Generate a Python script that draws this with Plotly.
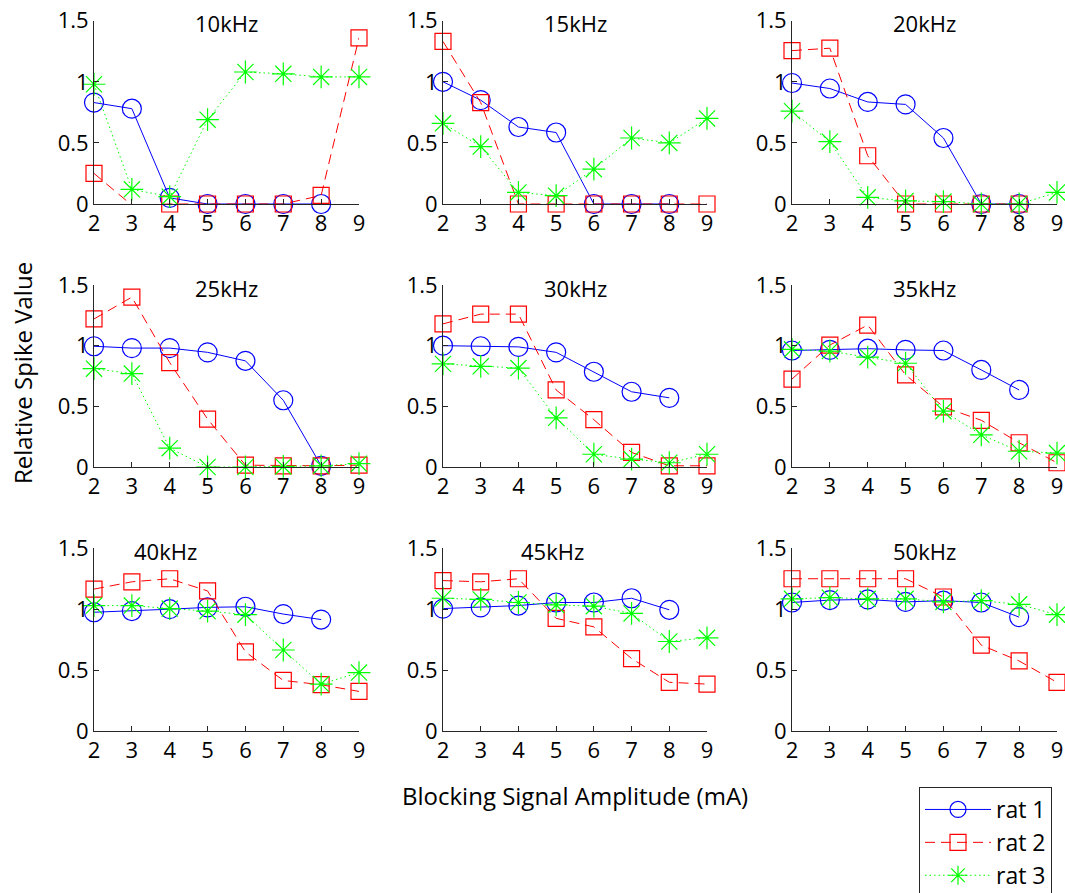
import plotly.graph_objects as go

# ---------------- data ----------------
amp_r1 = [2, 3, 4, 5, 6, 7, 8]
amp_r23 = [2, 3, 4, 5, 6, 7, 8, 9]
panel_titles = ["10kHz", "15kHz", "20kHz", "25kHz", "30kHz", "35kHz", "40kHz", "45kHz", "50kHz"]

rat1_10 = [0.83, 0.78, 0.05, 0.0, 0.0, 0.0, 0.0]
rat2_10 = [0.25, -0.01, 0.0, 0.0, 0.0, 0.0, 0.07, 1.36]
rat3_10 = [0.98, 0.12, 0.06, 0.69, 1.08, 1.065, 1.04, 1.04]

rat1_15 = [1.0, 0.85, 0.63, 0.585, 0.0, 0.0, 0.0]
rat2_15 = [1.33, 0.83, 0.0, 0.0, 0.0, 0.0, 0.0, 0.0]
rat3_15 = [0.66, 0.47, 0.095, 0.068, 0.285, 0.54, 0.5, 0.70]

rat1_20 = [0.99, 0.945, 0.835, 0.815, 0.54, 0.0, 0.0]
rat2_20 = [1.255, 1.275, 0.395, 0.0, 0.0, 0.0, 0.0, -0.01]
rat3_20 = [0.76, 0.51, 0.055, 0.025, 0.02, 0.0, 0.0, 0.095]

rat1_25 = [0.995, 0.98, 0.98, 0.945, 0.875, 0.55, 0.01]
rat2_25 = [1.22, 1.40, 0.86, 0.395, 0.015, 0.01, 0.01, 0.015]
rat3_25 = [0.81, 0.77, 0.155, 0.0, 0.0, 0.005, 0.01, 0.027]

rat1_30 = [1.0, 0.995, 0.99, 0.945, 0.785, 0.62, 0.57]
rat2_30 = [1.18, 1.26, 1.26, 0.635, 0.39, 0.12, 0.01, 0.01]
rat3_30 = [0.85, 0.83, 0.815, 0.405, 0.105, 0.065, 0.035, 0.105]

rat1_35 = [0.96, 0.965, 0.975, 0.965, 0.96, 0.80, 0.635]
rat2_35 = [0.725, 1.005, 1.17, 0.76, 0.495, 0.385, 0.2, 0.035]
rat3_35 = [0.97, 0.955, 0.905, 0.855, 0.46, 0.265, 0.13, 0.115]

rat1_40 = [0.975, 0.985, 1.0, 1.015, 1.02, 0.96, 0.915]
rat2_40 = [1.165, 1.225, 1.25, 1.15, 0.65, 0.415, 0.38, 0.325]
rat3_40 = [1.03, 1.03, 1.005, 0.985, 0.955, 0.665, 0.385, 0.48]

rat1_45 = [1.005, 1.015, 1.03, 1.055, 1.055, 1.09, 0.995]
rat2_45 = [1.235, 1.225, 1.25, 0.925, 0.855, 0.595, 0.40, 0.385]
rat3_45 = [1.09, 1.08, 1.055, 1.035, 1.025, 0.965, 0.735, 0.765]

rat1_50 = [1.055, 1.075, 1.08, 1.06, 1.07, 1.055, 0.935]
rat2_50 = [1.25, 1.25, 1.25, 1.25, 1.10, 0.705, 0.575, 0.40]
rat3_50 = [1.085, 1.095, 1.085, 1.085, 1.06, 1.07, 1.04, 0.955]

x_ticks = [2, 3, 4, 5, 6, 7, 8, 9]
y_ticks = [0, 0.5, 1, 1.5]
y_tick_text = ["0", "0.5", "1", "1.5"]
series_names = ["rat 1", "rat 2", "rat 3"]

rat1_all = [rat1_10, rat1_15, rat1_20, rat1_25, rat1_30, rat1_35, rat1_40, rat1_45, rat1_50]
rat2_all = [rat2_10, rat2_15, rat2_20, rat2_25, rat2_30, rat2_35, rat2_40, rat2_45, rat2_50]
rat3_all = [rat3_10, rat3_15, rat3_20, rat3_25, rat3_30, rat3_35, rat3_40, rat3_45, rat3_50]

# ---------------- layout helpers ----------------
W, H = 1065, 893
FONT = "Open Sans"
AX = "#262626"
col_px = [(94, 359), (443, 707), (792, 1057)]
row_px = [(20.7, 204), (285, 467), (548.3, 731)]
title_x = [5.5, 5.5, 5.5, 5.5, 5.5, 5.5, 3.88, 4.9, 5.5]

fig = go.Figure()
layout = dict(
    width=W, height=H,
    margin=dict(l=0, r=0, t=0, b=0, autoexpand=False),
    paper_bgcolor="white", plot_bgcolor="white",
    font=dict(family=FONT, size=22, color="black"),
    showlegend=True,
)
annotations = []

styles = [
    dict(color="#0000FF", dash="solid", symbol="circle-open", size=19),
    dict(color="#FF0000", dash="10px,6px", symbol="square-open", size=16),
    dict(color="#00FF00", dash="1.5px,3px", symbol="asterisk-open", size=19),
]

for i in range(9):
    r, c = divmod(i, 3)
    n = i + 1
    xa = "x" if n == 1 else f"x{n}"
    ya = "y" if n == 1 else f"y{n}"
    x0, x1 = col_px[c]
    y0, y1 = row_px[r]
    layout["xaxis" if n == 1 else f"xaxis{n}"] = dict(
        domain=[x0 / W, x1 / W], anchor=ya, range=[2, 9],
        tickvals=x_ticks, ticks="inside", ticklen=5, tickcolor=AX,
        showline=True, linecolor=AX, linewidth=1, showgrid=False, zeroline=False,
        tickfont=dict(size=22, color="black", family=FONT),
    )
    layout["yaxis" if n == 1 else f"yaxis{n}"] = dict(
        domain=[1 - y1 / H, 1 - y0 / H], anchor=xa, range=[0, 1.5],
        tickvals=y_ticks, ticktext=y_tick_text, ticks="inside", ticklen=5, tickcolor=AX,
        showline=True, linecolor=AX, linewidth=1, showgrid=False, zeroline=False,
        tickfont=dict(size=22, color="black", family=FONT),
    )
    for k, (xs, ys) in enumerate([(amp_r1, rat1_all[i]), (amp_r23, rat2_all[i]), (amp_r23, rat3_all[i])]):
        st = styles[k]
        fig.add_trace(go.Scatter(
            x=xs, y=ys, mode="lines+markers", name=series_names[k],
            legendgroup=series_names[k], showlegend=(i == 0),
            xaxis=xa, yaxis=ya, cliponaxis=False,
            line=dict(color=st["color"], width=1, dash=st["dash"]),
            marker=dict(symbol=st["symbol"], size=st["size"], color=st["color"],
                        line=dict(color=st["color"], width=1.2)),
        ))
    annotations.append(dict(
        x=title_x[i], y=1.478, xref=xa, yref=ya, text=panel_titles[i],
        showarrow=False, xanchor="center", yanchor="middle",
        font=dict(size=22, color="black", family=FONT),
    ))

annotations.append(dict(
    x=23 / W, y=1 - 373 / H, xref="paper", yref="paper", text="Relative Spike Value",
    textangle=-90, showarrow=False, xanchor="center", yanchor="middle",
    font=dict(size=24, color="black", family=FONT),
))
annotations.append(dict(
    x=575 / W, y=1 - 795 / H, xref="paper", yref="paper",
    text="Blocking Signal Amplitude (mA)",
    showarrow=False, xanchor="center", yanchor="middle",
    font=dict(size=24, color="black", family=FONT),
))

layout["annotations"] = annotations
layout["legend"] = dict(
    x=919 / W, y=1 - 787 / H, xanchor="left", yanchor="top",
    bordercolor="#262626", borderwidth=1, bgcolor="white",
    font=dict(size=23, color="black", family=FONT),
    tracegroupgap=0, itemwidth=66,
)
fig.update_layout(**layout)
fig.write_html("out.html")
